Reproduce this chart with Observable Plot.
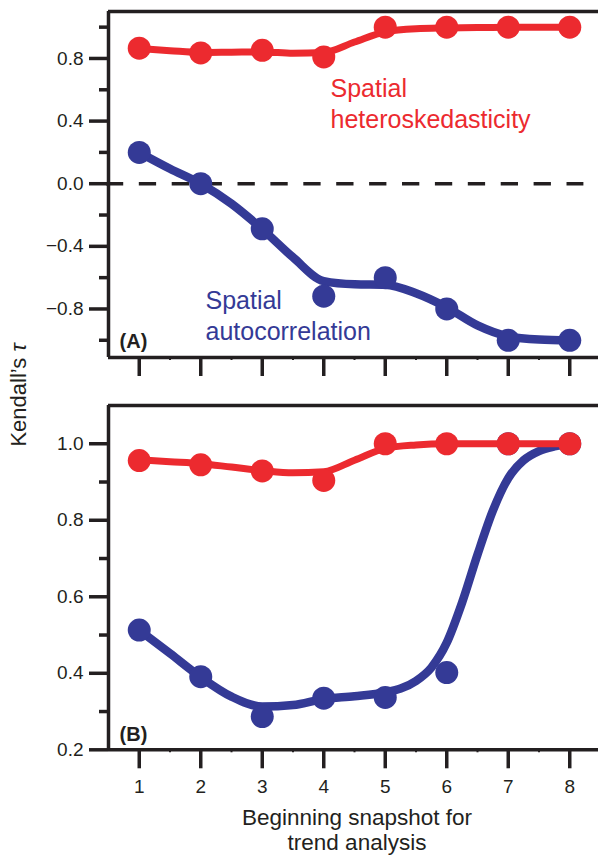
<!DOCTYPE html>
<html>
<head>
<meta charset="utf-8">
<script src="https://cdn.jsdelivr.net/npm/d3@7"></script>
<script src="https://cdn.jsdelivr.net/npm/@observablehq/plot@0.6"></script>
<style>
  html, body { margin: 0; padding: 0; background: #fff; }
  #wrap { position: relative; width: 598px; height: 855px; font-family: "Liberation Sans", Arial, sans-serif; color: #231f20; }
  #wrap svg { display: block; overflow: visible; }
  #ylabel { position: absolute; left: 19px; top: 395px; transform: translate(-50%, -50%) rotate(-90deg); font-size: 22px; line-height: 1; white-space: nowrap; }
  #xlabel { position: absolute; left: 357px; top: 805px; transform: translateX(-50%); font-size: 22.5px; line-height: 25px; text-align: center; white-space: nowrap; }
</style>
</head>
<body>
<div id="wrap">
  <div id="plotA"></div>
  <div id="plotB"></div>
  <div id="ylabel">Kendall’s <i>τ</i></div>
  <div id="xlabel">Beginning snapshot for<br>trend analysis</div>
</div>
<script>
// ---------- data ----------
const snapshots = [1, 2, 3, 4, 5, 6, 7, 8];

// Panel A observed Kendall's tau
const aHetero = [0.866, 0.835, 0.852, 0.81, 1.0, 1.0, 1.0, 1.0];
const aAuto   = [0.2, 0.0, -0.288, -0.718, -0.6, -0.8, -1.0, -1.0];
// Panel B observed Kendall's tau
const bHetero = [0.956, 0.945, 0.929, 0.904, 1.0, 1.0, 1.0, 1.0];
const bAuto   = [0.513, 0.391, 0.287, 0.335, 0.337, 0.402, 1.0, 1.0];

// smoothed fit curves
const fitX = [1, 1.5, 2, 2.5, 3, 3.5, 4, 4.5, 5, 5.5, 6, 6.5, 7, 7.5, 8];
const aHeteroFit = [0.864, 0.85, 0.838, 0.84, 0.842, 0.833, 0.838, 0.905, 0.97, 0.99, 0.995, 0.998, 1.0, 1.0, 1.0];
const aAutoFit   = [0.2, 0.096, 0.0, -0.128, -0.29, -0.47, -0.622, -0.642, -0.645, -0.70, -0.79, -0.905, -0.975, -0.995, -1.0];
const bHeteroFit = [0.958, 0.953, 0.948, 0.939, 0.930, 0.924, 0.927, 0.957, 0.988, 0.997, 1.0, 1.0, 1.0, 1.0, 1.0];
const bAutoFitX  = [1, 1.5, 2, 2.5, 3, 3.5, 4, 4.5, 5, 5.25, 5.5, 5.75, 6, 6.25, 6.5, 6.75, 7, 7.25, 7.5, 7.75, 8];
const bAutoFit   = [0.513, 0.452, 0.39, 0.339, 0.313, 0.317, 0.333, 0.340, 0.350, 0.360, 0.380, 0.415, 0.48, 0.585, 0.71, 0.825, 0.91, 0.957, 0.981, 0.993, 1.0];

// ticks
const xTicks = [1, 2, 3, 4, 5, 6, 7, 8];
const xTickLabels = ["1", "2", "3", "4", "5", "6", "7", "8"];
const xMinor = [1.5, 2.5, 3.5, 4.5, 5.5, 6.5, 7.5];
const aYMajor = [0.8, 0.4, 0.0, -0.4, -0.8];
const aYLabels = ["0.8", "0.4", "0.0", "\u22120.4", "\u22120.8"];
const aYMinor = [1.0, 0.6, 0.2, -0.2, -0.6, -1.0];
const bYMajor = [0.2, 0.4, 0.6, 0.8, 1.0];
const bYLabels = ["0.2", "0.4", "0.6", "0.8", "1.0"];
const bYMinor = [0.3, 0.5, 0.7, 0.9];

// domains
const xDomain = [0.5, 8.5];
const aYDomain = [-1.11, 1.10];
const bYDomain = [0.2, 1.1];
const zeroLineX = [0.466, 8.23];

// annotations
const aLabels = [
  {x: 4.11, y: 0.356, text: "Spatial\nheteroskedasticity", c: "red"},
  {x: 2.077, y: -0.998, text: "Spatial\nautocorrelation", c: "blue"}
];
const aPanel = [{x: 0.68, y: -1.048, text: "(A)"}];
const bPanel = [{x: 0.68, y: 0.224, text: "(B)"}];

// ---------- styles ----------
const ink = "#231f20";
const RED = "#ec2a2f";
const BLUE = "#343a96";
const font = "'Liberation Sans', Arial, sans-serif";
const zip = (xs, ys) => xs.map((x, i) => ({x, y: ys[i]}));
const fmt = (ticks, labels) => d => { const i = ticks.findIndex(t => Math.abs(t - d) < 1e-9); return i >= 0 ? labels[i] : ""; };

function frameMarks(yDom) {
  return [
    Plot.ruleX([xDomain[0]], {stroke: ink, strokeWidth: 3.5}),
    Plot.ruleY(yDom, {stroke: ink, strokeWidth: 3.5})
  ];
}

function seriesMarks(autoFitX, autoFit, autoPts, hetFit, hetPts) {
  return [
    Plot.line(zip(autoFitX, autoFit), {x: "x", y: "y", stroke: BLUE, strokeWidth: 8.5, curve: "monotone-x", strokeLinecap: "round"}),
    Plot.dot(zip(snapshots, autoPts), {x: "x", y: "y", r: 11.5, fill: BLUE}),
    Plot.line(zip(fitX, hetFit), {x: "x", y: "y", stroke: RED, strokeWidth: 7, curve: "monotone-x", strokeLinecap: "round"}),
    Plot.dot(zip(snapshots, hetPts), {x: "x", y: "y", r: 11.5, fill: RED})
  ];
}

// ---------- panel A ----------
const plotA = Plot.plot({
  width: 598, height: 385,
  marginLeft: 108, marginRight: 0, marginTop: 11, marginBottom: 28,
  x: {domain: xDomain, range: [108, 600]},
  y: {domain: aYDomain},
  style: {fontFamily: font, fontSize: "19px", color: ink, background: "transparent", overflow: "visible"},
  marks: [
    Plot.ruleY([0], {x1: zeroLineX[0], x2: zeroLineX[1], stroke: ink, strokeWidth: 3.5, strokeDasharray: "17.3,15.6"}),
    ...seriesMarks(fitX, aAutoFit, aAuto, aHeteroFit, aHetero),
    Plot.text(aLabels, {x: "x", y: "y", text: "text", fill: d => d.c === "red" ? RED : BLUE, fontSize: 25, textAnchor: "start", lineAnchor: "bottom", lineHeight: 1.24}),
    Plot.text(aPanel, {x: "x", y: "y", text: "text", fill: ink, fontSize: 20, fontWeight: "bold", textAnchor: "start", lineAnchor: "bottom"}),
    ...frameMarks(aYDomain),
    Plot.axisY(aYMajor, {tickSize: 19, tickPadding: 6, fontSize: 19, tickFormat: fmt(aYMajor, aYLabels), strokeWidth: 3.5, stroke: ink, label: null}),
    Plot.axisY(aYMinor, {tickSize: 9, tickFormat: () => "", strokeWidth: 3.5, stroke: ink, label: null}),
    Plot.axisX(xTicks, {tickSize: 19, tickFormat: () => "", strokeWidth: 3.5, stroke: ink, label: null}),
    Plot.axisX(xMinor, {tickSize: 3, tickFormat: () => "", strokeWidth: 2, stroke: ink, label: null})
  ]
});
document.getElementById("plotA").append(plotA);

// ---------- panel B ----------
const plotB = Plot.plot({
  width: 598, height: 420,
  marginLeft: 108, marginRight: 0, marginTop: 20, marginBottom: 55.7,
  x: {domain: xDomain, range: [108, 600]},
  y: {domain: bYDomain},
  style: {fontFamily: font, fontSize: "19px", color: ink, background: "transparent", overflow: "visible"},
  marks: [
    ...seriesMarks(bAutoFitX, bAutoFit, bAuto, bHeteroFit, bHetero),
    Plot.text(bPanel, {x: "x", y: "y", text: "text", fill: ink, fontSize: 20, fontWeight: "bold", textAnchor: "start", lineAnchor: "bottom"}),
    ...frameMarks(bYDomain),
    Plot.axisY(bYMajor, {tickSize: 19, tickPadding: 6, fontSize: 19, tickFormat: fmt(bYMajor, bYLabels), strokeWidth: 3.5, stroke: ink, label: null}),
    Plot.axisY(bYMinor, {tickSize: 9, tickFormat: () => "", strokeWidth: 3.5, stroke: ink, label: null}),
    Plot.axisX(xTicks, {tickSize: 19, tickPadding: 11, fontSize: 19, tickFormat: fmt(xTicks, xTickLabels), strokeWidth: 3.5, stroke: ink, label: null}),
    Plot.axisX(xMinor, {tickSize: 3, tickFormat: () => "", strokeWidth: 2, stroke: ink, label: null})
  ]
});
document.getElementById("plotB").append(plotB);
</script>
</body>
</html>
